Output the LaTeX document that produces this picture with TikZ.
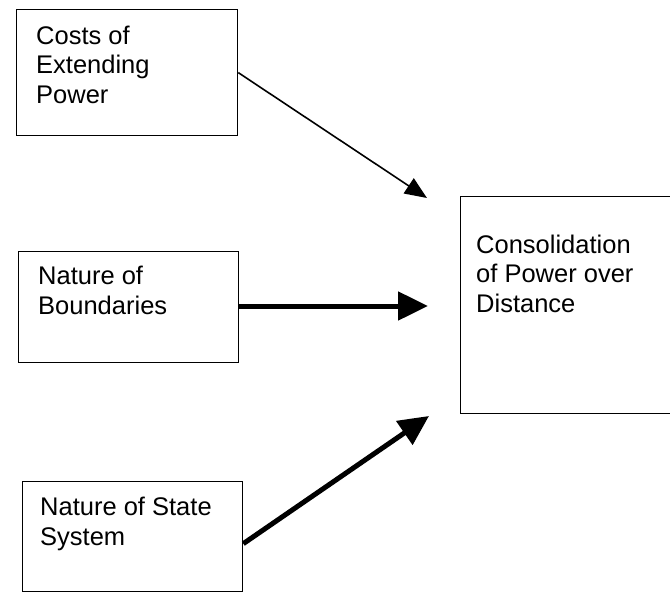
\documentclass[tikz,border=0pt]{standalone}
\usepackage{fontspec}
\setmainfont{Liberation Sans}
\usetikzlibrary{arrows.meta}
\tikzset{
  box/.style={draw, line width=1.3pt, rectangle, anchor=north west, inner sep=0pt},
  lbl/.style={anchor=base west, align=left, inner sep=0pt,
    font=\fontsize{25.5}{29.5}\selectfont},
  thinarrow/.style={line width=1.6pt, -{Triangle[length=22pt,width=18pt]}},
  thickarrow/.style={line width=5pt, -{Triangle[length=30pt,width=28pt]}}
}
\begin{document}
\begin{tikzpicture}[x=1pt,y=-1pt]
  \useasboundingbox (0,0) rectangle (670,592);
  % source boxes
  \node[box, minimum width=221pt, minimum height=126pt] (b1) at (16,9) {};
  \node[box, minimum width=220pt, minimum height=111pt] (b2) at (18,251) {};
  \node[box, minimum width=220pt, minimum height=110pt] (b3) at (22,481) {};
  % target box, running off the right edge
  \node[box, minimum width=240pt, minimum height=217pt] (b4) at (460,196) {};
  % labels (positioned by the baseline of their last line)
  \node[lbl] (l1) at (36,103) {Costs of\\Extending\\Power};
  \node[lbl] (l2) at (38,314) {Nature of\\Boundaries};
  \node[lbl] (l3) at (40,545) {Nature of State\\System};
  \node[lbl] (l4) at (476,312) {Consolidation\\of Power over\\Distance};
  % arrow tips stop short of the target box
  \coordinate (t1) at (427,198);
  \coordinate (t2) at (428,306);
  \coordinate (t3) at (429,416);
  \draw[thinarrow] (b1.east) -- (t1);
  \draw[thickarrow] (b2.east |- t2) -- (t2);
  \draw[thickarrow] ([yshift=-7pt]b3.east) -- (t3);
\end{tikzpicture}
\end{document}
